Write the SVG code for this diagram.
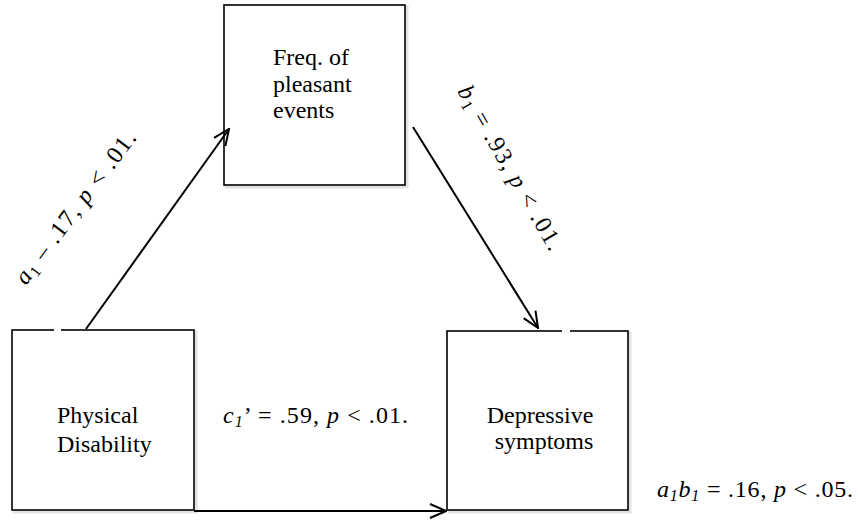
<svg xmlns="http://www.w3.org/2000/svg" width="858" height="522" viewBox="0 0 858 522">
<style>
.box{fill:#fff;stroke:#000;stroke-width:1.6}
.shadow{fill:none;stroke:#e2e2e2;stroke-width:3}
.gap{stroke:#fff;stroke-width:3}
text{font-family:'Liberation Serif','Times New Roman',Times,serif;font-size:24px;fill:#000}
.i{font-style:italic}
.s{font-size:16px}
.conn{fill:none;stroke:#000;stroke-width:2}
</style>
<defs>
<marker id="arr" viewBox="0 0 18 16" refX="17" refY="8" markerWidth="18" markerHeight="16" markerUnits="userSpaceOnUse" orient="auto">
<path d="M1,1 L17,8 L1,15" fill="none" stroke="#000" stroke-width="2"/>
</marker>
</defs>
<rect width="858" height="522" fill="#fff"/>
<g id="node-freq">
<rect class="shadow" x="226" y="7" width="181" height="180"/>
<rect class="box" x="224" y="5" width="181" height="180"/>
<text x="273" y="65">Freq. of</text>
<text x="273" y="92">pleasant</text>
<text x="273" y="118">events</text>
</g>
<g id="node-physical">
<rect class="shadow" x="14" y="332" width="182" height="180"/>
<rect class="box" x="12" y="330" width="182" height="180"/>
<line class="gap" x1="54" y1="330" x2="61" y2="330"/>
<text x="57" y="423">Physical</text>
<text x="57" y="452">Disability</text>
</g>
<g id="node-depressive">
<rect class="shadow" x="449" y="333" width="181" height="179"/>
<rect class="box" x="447" y="331" width="181" height="179"/>
<line class="gap" x1="562" y1="331" x2="570" y2="331"/>
<text x="540" y="423" text-anchor="middle">Depressive</text>
<text x="544" y="449" text-anchor="middle">symptoms</text>
</g>
<g id="connectors">
<line class="conn" x1="86" y1="329" x2="229" y2="129" marker-end="url(#arr)"/>
<line class="conn" x1="413" y1="127" x2="538" y2="328" marker-end="url(#arr)"/>
<line class="conn" x1="194" y1="511" x2="446" y2="511" marker-end="url(#arr)"/>
</g>
<g id="labels">
<text transform="translate(26,286) rotate(-53)" textLength="185" lengthAdjust="spacing"><tspan class="i">a</tspan><tspan class="s" dy="4">1</tspan><tspan dy="-4"> –   .17, </tspan><tspan class="i">p</tspan> &lt; .01.</text>
<text transform="translate(457,91) rotate(60)" textLength="186" lengthAdjust="spacing"><tspan class="i">b</tspan><tspan class="s" dy="4">1</tspan><tspan dy="-4"> = .93, </tspan><tspan class="i">p</tspan> &lt; .01.</text>
<text x="223" y="423" textLength="185" lengthAdjust="spacing"><tspan class="i">c</tspan><tspan class="i s" dy="4">1</tspan><tspan dy="-4">’ = .59, </tspan><tspan class="i">p</tspan> &lt; .01.</text>
<text x="657" y="497" textLength="196" lengthAdjust="spacing"><tspan class="i">a</tspan><tspan class="i s" dy="4">1</tspan><tspan class="i" dy="-4">b</tspan><tspan class="i s" dy="4">1</tspan><tspan dy="-4"> = .16, </tspan><tspan class="i">p</tspan> &lt; .05.</text>
</g>
</svg>
